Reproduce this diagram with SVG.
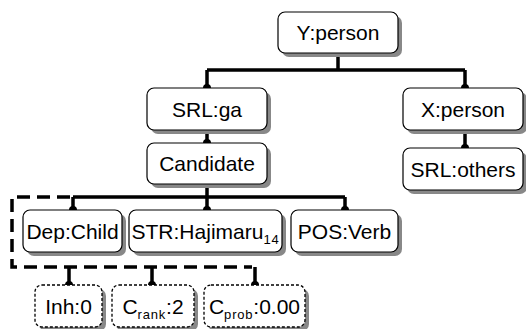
<svg xmlns="http://www.w3.org/2000/svg" width="526" height="329" viewBox="0 0 526 329">
<style>
.sh{fill:#888888;}
.bx{fill:#ffffff;stroke:#000000;stroke-width:1.2;}
.dt{fill:#ffffff;stroke:#000000;stroke-width:1.3;stroke-dasharray:3,2;}
.t{font-family:"Liberation Sans",Arial,sans-serif;font-size:21px;fill:#000000;text-anchor:middle;}
.s{font-size:13px;letter-spacing:0.8px;}
.ln{fill:none;stroke:#000000;stroke-width:3.5;}
.dl{fill:none;stroke:#000000;stroke-width:3.5;stroke-dasharray:13,7;}
.d{fill:#000000;}
</style>
<rect width="526" height="329" fill="#ffffff"/>
<g id="connectors">
<path class="ln" d="M338,53 V70 M207,70 H465 M207,70 V88 M465,70 V88"/>
<path class="ln" d="M207,130 V143 M465,130 V148"/>
<path class="ln" d="M207,184 V197 M73,197 H345 M73,197 V210 M207,197 V210 M345,197 V210"/>
<path class="dl" d="M70,197 H12 V267 H252"/>
<path class="ln" d="M69,267 V285 M152,267 V285 M255,267 V285"/>
<circle class="d" cx="338" cy="53" r="4"/>
<circle class="d" cx="207" cy="88" r="4"/>
<circle class="d" cx="465" cy="88" r="4"/>
<circle class="d" cx="207" cy="130" r="4"/>
<circle class="d" cx="207" cy="143" r="4"/>
<circle class="d" cx="465" cy="130" r="4"/>
<circle class="d" cx="465" cy="148" r="4"/>
<circle class="d" cx="207" cy="184" r="4"/>
<circle class="d" cx="73" cy="210" r="4"/>
<circle class="d" cx="207" cy="210" r="4"/>
<circle class="d" cx="345" cy="210" r="4"/>
<circle class="d" cx="69" cy="285" r="4"/>
<circle class="d" cx="152" cy="285" r="4"/>
<circle class="d" cx="255" cy="285" r="4"/>
</g>
<g id="n-yperson">
<rect class="sh" x="282" y="16" width="120" height="41" rx="7"/>
<rect class="bx" x="278" y="12" width="120" height="41" rx="7"/>
<text class="t" x="338" y="40">Y:person</text>
</g>
<g id="n-srlga">
<rect class="sh" x="151" y="92" width="120" height="42" rx="7"/>
<rect class="bx" x="147" y="88" width="120" height="42" rx="7"/>
<text class="t" x="207" y="116.5">SRL:ga</text>
</g>
<g id="n-candidate">
<rect class="sh" x="151" y="147" width="120" height="41" rx="7"/>
<rect class="bx" x="147" y="143" width="120" height="41" rx="7"/>
<text class="t" x="207" y="171">Candidate</text>
</g>
<g id="n-xperson">
<rect class="sh" x="407" y="92" width="120" height="42" rx="7"/>
<rect class="bx" x="403" y="88" width="120" height="42" rx="7"/>
<text class="t" x="463" y="116.5">X:person</text>
</g>
<g id="n-srlothers">
<rect class="sh" x="407" y="152" width="120" height="42" rx="7"/>
<rect class="bx" x="403" y="148" width="120" height="42" rx="7"/>
<text class="t" x="463" y="176.5">SRL:others</text>
</g>
<g id="n-depchild">
<rect class="sh" x="27" y="214" width="99" height="42" rx="7"/>
<rect class="bx" x="23" y="210" width="99" height="42" rx="7"/>
<text class="t" x="72.5" y="238.5">Dep:Child</text>
</g>
<g id="n-str">
<rect class="sh" x="133" y="214" width="153" height="42" rx="7"/>
<rect class="bx" x="129" y="210" width="153" height="42" rx="7"/>
<text class="t" x="205.5" y="238.5">STR:Hajimaru<tspan class="s" dy="5">14</tspan></text>
</g>
<g id="n-pos">
<rect class="sh" x="295" y="214" width="107" height="42" rx="7"/>
<rect class="bx" x="291" y="210" width="107" height="42" rx="7"/>
<text class="t" x="344.5" y="238.5">POS:Verb</text>
</g>
<g id="n-inh">
<rect class="sh" x="39" y="289" width="67" height="42" rx="7"/>
<rect class="dt" x="35" y="285" width="67" height="42" rx="7"/>
<text class="t" x="68.5" y="313.5">Inh:0</text>
</g>
<g id="n-crank">
<rect class="sh" x="116" y="289" width="82" height="42" rx="7"/>
<rect class="dt" x="112" y="285" width="82" height="42" rx="7"/>
<text class="t" x="153" y="313.5">C<tspan class="s" dy="5">rank</tspan><tspan dy="-5">:2</tspan></text>
</g>
<g id="n-cprob">
<rect class="sh" x="208" y="289" width="101" height="42" rx="7"/>
<rect class="dt" x="204" y="285" width="101" height="42" rx="7"/>
<text class="t" x="254.5" y="313.5">C<tspan class="s" dy="5">prob</tspan><tspan dy="-5">:0.00</tspan></text>
</g>
</svg>
